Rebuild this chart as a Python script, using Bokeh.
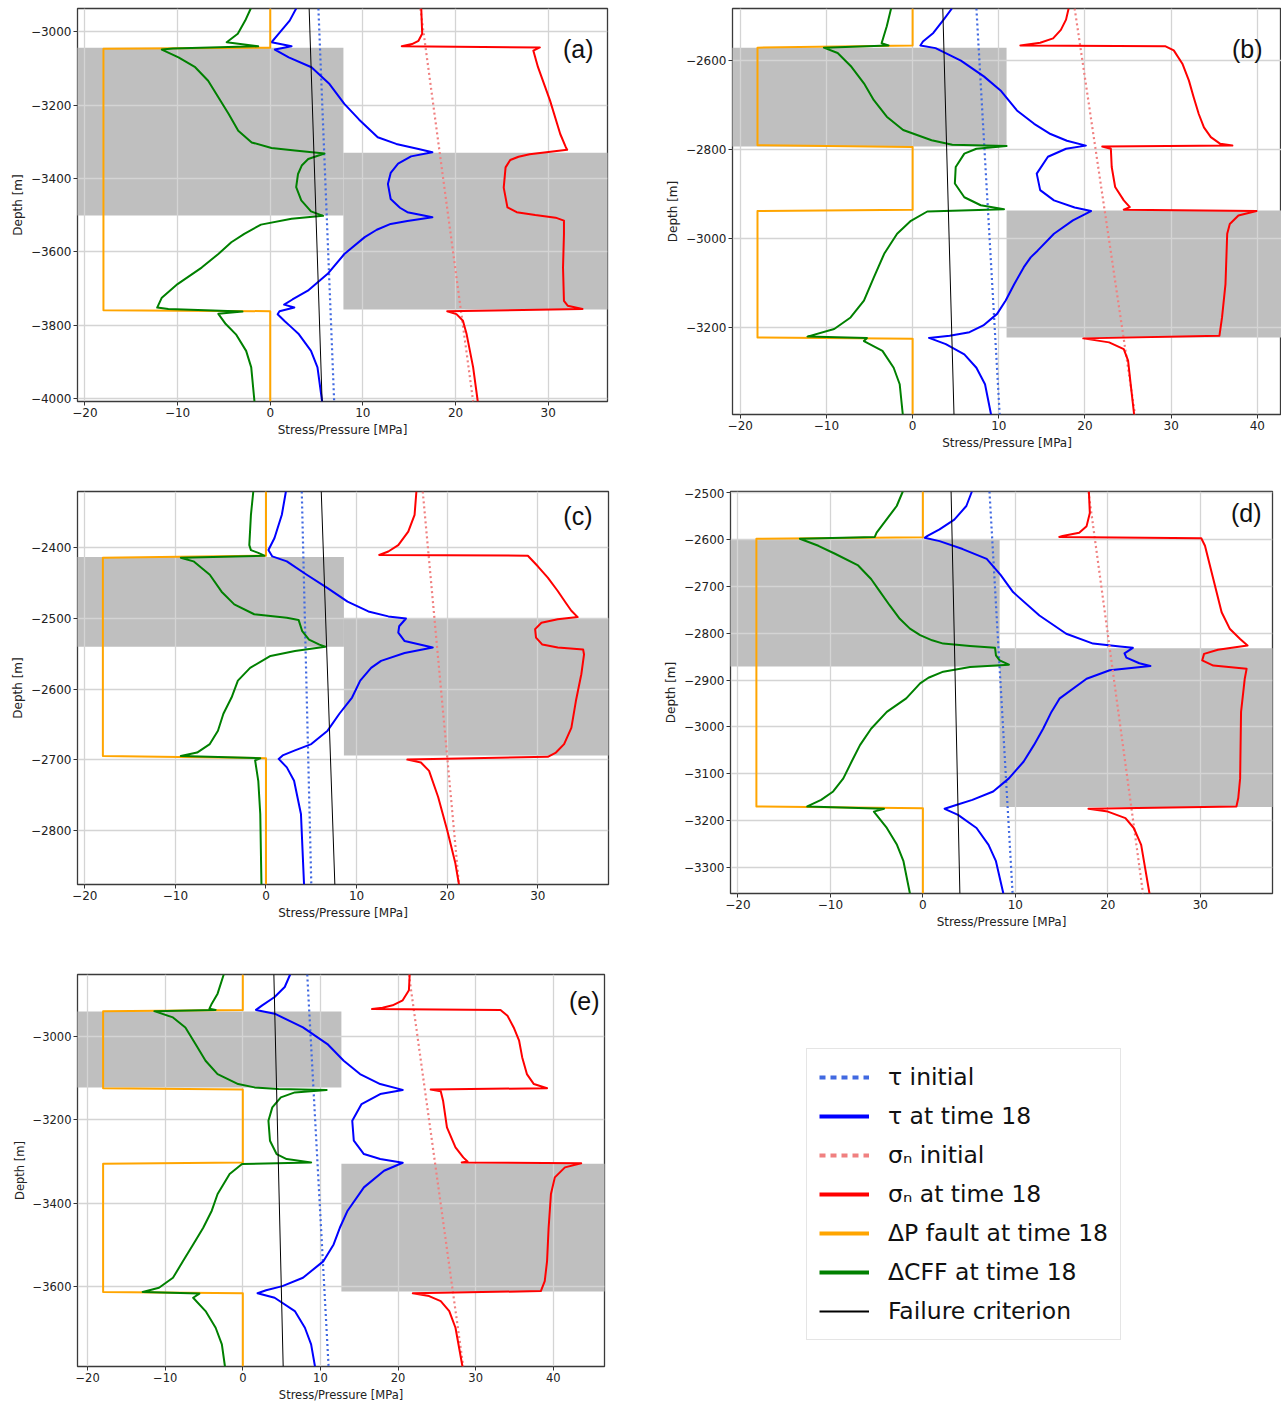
from bokeh.plotting import figure
from bokeh.layouts import row, column
from bokeh.models import (Range1d, FixedTicker, Legend, LegendItem, Label,
                          CustomJSTickFormatter)
from bokeh.embed import file_html
from bokeh.resources import INLINE

# ---------------------------------------------------------------- data
X_TICKS = [-20, -10, 0, 10, 20, 30, 40]
X_LABEL = "Stress/Pressure [MPa]"
Y_LABEL = "Depth [m]"
LEGEND_LABELS = ["τ initial", "τ at time 18", "σₙ initial", "σₙ at time 18",
                 "ΔP fault at time 18", "ΔCFF at time 18", "Failure criterion"]

# each curve: list of (depth [m], value [MPa])
# ---- panel (a)
A_YTICKS = [-4000, -3800, -3600, -3400, -3200, -3000]
A_LEFT_ZONE = (-3044, -3501)
A_RIGHT_ZONE = (-3330, -3757)
A_FAULT_X = 7.9
A_TAU0 = [(-2937, 5.2), (-4008, 6.9)]
A_SN0 = [(-2937, 16.2), (-4008, 21.9)]
A_FAIL = [(-2937, 4.2), (-4008, 5.6)]
A_DP = [(-2937, 0), (-3044, 0), (-3047, -18), (-3759, -18), (-3762, 0), (-4008, 0)]
A_TAU = [(-2937, 2.8), (-2970, 2.1), (-3006, 0.9), (-3029, 0.14), (-3040, 2.3), (-3049, 0.5),
         (-3070, 2.0), (-3097, 4.45), (-3143, 6.4), (-3197, 8.0), (-3240, 9.6), (-3288, 11.6),
         (-3306, 13.6), (-3320, 16.0), (-3329, 17.5), (-3340, 15.2), (-3360, 13.8), (-3385, 13.0),
         (-3415, 12.7), (-3456, 13.0), (-3480, 14.0), (-3492, 14.8), (-3500, 16.3), (-3506, 17.5),
         (-3516, 14.8), (-3524, 13.0), (-3540, 11.5), (-3560, 10.2), (-3606, 8.0), (-3660, 6.2),
         (-3706, 4.06), (-3730, 2.4), (-3744, 1.5), (-3752, 2.6), (-3762, 1.0), (-3770, 0.8),
         (-3790, 1.6), (-3806, 2.3), (-3825, 3.1), (-3870, 4.4), (-3915, 5.1), (-4008, 5.6)]
A_SN = [(-2937, 16.3), (-3006, 16.4), (-3025, 16.0), (-3034, 15.3), (-3040, 14.2), (-3043, 29.1),
        (-3052, 28.4), (-3097, 28.9), (-3188, 30.2), (-3279, 31.3), (-3315, 31.9), (-3322, 32.05),
        (-3334, 28.0), (-3341, 26.8), (-3350, 25.9), (-3370, 25.4), (-3425, 25.2), (-3479, 25.6),
        (-3492, 26.6), (-3500, 28.6), (-3507, 30.8), (-3515, 31.7), (-3552, 31.7), (-3643, 31.6),
        (-3734, 31.7), (-3747, 32.1), (-3756, 33.7), (-3762, 19.1), (-3770, 20.1), (-3788, 20.8),
        (-3825, 21.2), (-3915, 21.9), (-4008, 22.4)]
A_DCFF = [(-2937, -2.1), (-2970, -2.7), (-3006, -3.5), (-3029, -4.7), (-3040, -1.3), (-3046, -10.5),
          (-3049, -11.7), (-3070, -9.9), (-3097, -8.1), (-3134, -6.7), (-3179, -5.6), (-3224, -4.5),
          (-3270, -3.45), (-3302, -2.0), (-3317, 0.14), (-3324, 2.66), (-3332, 5.85), (-3347, 4.1),
          (-3365, 3.4), (-3388, 3.0), (-3424, 2.8), (-3460, 3.35), (-3490, 4.4), (-3502, 5.7),
          (-3510, 2.3), (-3526, -1.0), (-3551, -2.8), (-3574, -4.2), (-3606, -5.6), (-3643, -7.4),
          (-3688, -10.0), (-3725, -11.7), (-3752, -12.2), (-3756, -11.0), (-3763, -3.0),
          (-3769, -5.6), (-3797, -4.8), (-3825, -3.7), (-3870, -2.6), (-3915, -2.05), (-4008, -1.7)]

# ---- panel (b)
B_YTICKS = [-3200, -3000, -2800, -2600]
B_LEFT_ZONE = (-2571, -2793)
B_RIGHT_ZONE = (-2937, -3222)
B_FAULT_X = 10.9
B_TAU0 = [(-2483, 7.4), (-3395, 10.1)]
B_SN0 = [(-2483, 18.8), (-3395, 25.8)]
B_FAIL = [(-2483, 3.5), (-3395, 4.8)]
B_DP = [(-2483, 0), (-2566, 0), (-2571, -18), (-2790, -18), (-2794, 0), (-2935, 0),
        (-2938, -18), (-3222, -18), (-3225, 0), (-3395, 0)]
B_TAU = [(-2483, 4.56), (-2508, 3.6), (-2538, 2.4), (-2557, 1.2), (-2566, 0.9), (-2572, 2.66),
         (-2600, 5.6), (-2636, 8.3), (-2667, 10.2), (-2712, 12.1), (-2742, 14.1), (-2765, 16.0),
         (-2780, 17.9), (-2791, 20.1), (-2798, 17.8), (-2816, 15.7), (-2854, 14.4), (-2891, 14.8),
         (-2914, 16.4), (-2930, 18.8), (-2938, 20.7), (-2959, 18.6), (-2989, 16.4), (-3027, 14.5),
         (-3042, 13.7), (-3064, 12.9), (-3102, 11.8), (-3139, 10.8), (-3169, 9.8), (-3195, 8.2),
         (-3210, 6.6), (-3218, 4.3), (-3223, 1.9), (-3237, 3.85), (-3260, 6.0), (-3290, 7.4),
         (-3327, 8.4), (-3395, 9.1)]
B_SN = [(-2483, 18.1), (-2508, 17.8), (-2531, 17.2), (-2550, 16.3), (-2560, 14.8), (-2566, 12.5),
        (-2568, 29.35), (-2577, 30.3), (-2607, 31.3), (-2645, 32.06), (-2682, 32.6), (-2720, 33.2),
        (-2750, 33.8), (-2772, 34.6), (-2787, 35.7), (-2791, 37.1), (-2793, 22.0), (-2798, 23.0),
        (-2839, 23.1), (-2884, 23.5), (-2914, 24.5), (-2929, 25.2), (-2935, 24.5), (-2938, 39.9),
        (-2948, 37.8), (-2967, 36.8), (-2989, 36.5), (-3102, 36.3), (-3177, 35.9), (-3218, 35.6),
        (-3224, 19.8), (-3233, 22.8), (-3248, 24.5), (-3274, 25.0), (-3327, 25.3), (-3395, 25.7)]
B_DCFF = [(-2483, -2.5), (-2523, -3.0), (-2561, -3.6), (-2566, -2.8), (-2571, -10.3), (-2583, -8.7),
          (-2614, -7.1), (-2651, -5.65), (-2689, -4.5), (-2726, -3.0), (-2756, -1.1), (-2779, 2.2),
          (-2789, 4.6), (-2792, 10.9), (-2798, 7.4), (-2809, 6.0), (-2839, 5.0), (-2876, 4.9),
          (-2907, 6.0), (-2925, 7.9), (-2934, 10.6), (-2939, 1.7), (-2960, -0.2), (-2989, -1.8),
          (-3034, -3.3), (-3087, -4.5), (-3139, -5.65), (-3177, -7.2), (-3203, -9.1), (-3220, -12.2),
          (-3223, -5.3), (-3230, -5.65), (-3252, -3.5), (-3290, -2.2), (-3327, -1.5), (-3395, -1.14)]

# ---- panel (c)
C_YTICKS = [-2800, -2700, -2600, -2500, -2400]
C_LEFT_ZONE = (-2413, -2540)
C_RIGHT_ZONE = (-2500, -2694)
C_FAULT_X = 8.6
C_TAU0 = [(-2320, 3.95), (-2877, 5.0)]
C_SN0 = [(-2320, 17.3), (-2877, 21.3)]
C_FAIL = [(-2320, 6.1), (-2877, 7.6)]
C_DP = [(-2320, 0), (-2411, 0), (-2414, -18), (-2695, -18), (-2698, 0), (-2877, 0)]
C_TAU = [(-2320, 2.2), (-2353, 1.75), (-2386, 0.94), (-2403, 0.27), (-2412, 0.7), (-2419, 2.3),
         (-2438, 4.5), (-2457, 6.8), (-2476, 9.0), (-2490, 11.3), (-2497, 13.5), (-2500, 15.45),
         (-2511, 14.7), (-2520, 14.6), (-2532, 15.3), (-2541, 18.4), (-2549, 15.3), (-2560, 12.7),
         (-2570, 11.6), (-2588, 10.4), (-2612, 9.5), (-2635, 8.1), (-2659, 6.8), (-2678, 5.0),
         (-2687, 3.2), (-2694, 1.84), (-2699, 1.4), (-2711, 2.3), (-2730, 3.1), (-2777, 3.86),
         (-2877, 4.2)]
C_SN = [(-2320, 16.6), (-2353, 16.4), (-2377, 15.7), (-2396, 14.6), (-2405, 13.5), (-2410, 12.5),
        (-2411, 28.9), (-2426, 30.0), (-2442, 31.1), (-2461, 32.2), (-2478, 33.1), (-2489, 33.7),
        (-2498, 34.4), (-2501, 32.2), (-2506, 30.4), (-2515, 29.7), (-2527, 29.8), (-2537, 30.5),
        (-2541, 32.2), (-2544, 35.0), (-2551, 35.1), (-2579, 34.8), (-2617, 34.2), (-2655, 33.7),
        (-2678, 32.9), (-2690, 32.0), (-2696, 31.1), (-2700, 15.6), (-2704, 17.1), (-2716, 18.0),
        (-2753, 19.0), (-2800, 20.0), (-2847, 20.9), (-2877, 21.3)]
C_DCFF = [(-2320, -1.4), (-2353, -1.66), (-2396, -1.84), (-2403, -1.66), (-2407, -0.85),
          (-2411, -0.18), (-2414, -9.4), (-2419, -8.0), (-2438, -6.2), (-2462, -4.9), (-2480, -3.5),
          (-2494, -1.3), (-2499, 2.3), (-2502, 3.6), (-2518, 4.0), (-2530, 4.75), (-2537, 5.9),
          (-2540, 6.55), (-2546, 3.2), (-2553, 0.5), (-2570, -1.75), (-2588, -3.1), (-2612, -3.8),
          (-2635, -4.7), (-2659, -5.3), (-2678, -6.2), (-2690, -7.6), (-2695, -9.4), (-2698, -0.63),
          (-2701, -1.2), (-2730, -0.85), (-2777, -0.63), (-2877, -0.5)]

# ---- panel (d)
D_YTICKS = [-3300, -3200, -3100, -3000, -2900, -2800, -2700, -2600, -2500]
D_LEFT_ZONE = (-2600, -2871)
D_RIGHT_ZONE = (-2832, -3171)
D_FAULT_X = 8.3
D_TAU0 = [(-2497, 7.2), (-3356, 9.7)]
D_SN0 = [(-2497, 17.9), (-3356, 23.8)]
D_FAIL = [(-2497, 3.05), (-3356, 4.0)]
D_DP = [(-2497, 0), (-2595, 0), (-2598, -18), (-3170, -18), (-3174, 0), (-3356, 0)]
D_TAU = [(-2497, 5.3), (-2528, 4.7), (-2557, 3.4), (-2578, 1.8), (-2592, 0.5), (-2596, 0.18),
         (-2603, 1.8), (-2620, 4.3), (-2641, 6.9), (-2675, 8.4), (-2712, 9.75), (-2762, 12.6),
         (-2801, 15.5), (-2822, 18.4), (-2828, 21.3), (-2831, 22.7), (-2843, 21.8), (-2852, 22.0),
         (-2864, 23.4), (-2870, 24.6), (-2879, 20.2), (-2897, 17.7), (-2939, 14.8), (-2968, 13.9),
         (-3004, 13.0), (-3039, 12.0), (-3074, 10.9), (-3110, 9.3), (-3138, 7.6), (-3156, 5.35),
         (-3167, 3.6), (-3175, 2.35), (-3188, 3.8), (-3216, 5.8), (-3252, 7.1), (-3287, 7.9),
         (-3356, 8.7)]
D_SN = [(-2497, 17.95), (-2543, 18.05), (-2571, 17.7), (-2585, 16.9), (-2592, 15.1), (-2594, 14.75),
        (-2597, 30.1), (-2613, 30.5), (-2684, 31.4), (-2755, 32.3), (-2791, 33.2), (-2812, 34.3),
        (-2826, 35.1), (-2835, 31.9), (-2844, 30.4), (-2858, 30.2), (-2869, 31.4), (-2876, 35.0),
        (-2897, 34.8), (-2968, 34.4), (-3110, 34.3), (-3152, 34.1), (-3170, 33.9), (-3175, 17.9),
        (-3181, 20.0), (-3195, 21.9), (-3216, 22.8), (-3252, 23.6), (-3356, 24.5)]
D_DCFF = [(-2497, -2.17), (-2528, -2.83), (-2557, -3.94), (-2585, -5.0), (-2594, -5.2),
          (-2598, -13.3), (-2613, -11.3), (-2630, -9.5), (-2655, -7.0), (-2684, -5.6), (-2712, -4.6),
          (-2740, -3.6), (-2769, -2.5), (-2790, -1.4), (-2804, -0.3), (-2815, 1.0), (-2822, 2.2),
          (-2827, 5.1), (-2831, 7.8), (-2847, 7.9), (-2858, 8.3), (-2867, 9.3), (-2872, 5.1),
          (-2882, 2.2), (-2895, 0.6), (-2907, -0.3), (-2939, -1.8), (-2968, -3.9), (-3004, -5.6),
          (-3039, -6.8), (-3074, -7.7), (-3110, -8.6), (-3138, -9.7), (-3156, -11.0), (-3170, -12.5),
          (-3175, -4.2), (-3181, -5.3), (-3216, -3.9), (-3252, -2.8), (-3287, -2.1), (-3356, -1.4)]

# ---- panel (e)
E_YTICKS = [-3600, -3400, -3200, -3000]
E_LEFT_ZONE = (-2940, -3122)
E_RIGHT_ZONE = (-3305, -3612)
E_FAULT_X = 12.7
E_TAU0 = [(-2851, 8.3), (-3792, 11.05)]
E_SN0 = [(-2851, 21.4), (-3792, 28.4)]
E_FAIL = [(-2851, 4.0), (-3792, 5.2)]
E_DP = [(-2851, 0), (-2936, 0), (-2939, -18), (-3124, -18), (-3127, 0), (-3302, 0),
        (-3305, -18), (-3613, -18), (-3616, 0), (-3792, 0)]
E_TAU = [(-2851, 6.1), (-2881, 5.4), (-2905, 4.1), (-2925, 2.5), (-2936, 1.7), (-2945, 4.1),
         (-2978, 7.75), (-3018, 10.9), (-3058, 13.0), (-3090, 15.1), (-3114, 17.7), (-3128, 20.6),
         (-3138, 17.7), (-3162, 15.3), (-3202, 14.1), (-3250, 14.3), (-3282, 15.6), (-3294, 17.7),
         (-3303, 20.6), (-3322, 18.2), (-3362, 15.6), (-3418, 13.5), (-3459, 12.5), (-3499, 11.7),
         (-3539, 10.4), (-3579, 7.75), (-3599, 5.1), (-3609, 3.0), (-3616, 1.9), (-3627, 4.1),
         (-3659, 6.7), (-3699, 8.0), (-3739, 8.8), (-3792, 9.3)]
E_SN = [(-2851, 21.5), (-2889, 21.4), (-2913, 20.6), (-2925, 19.3), (-2931, 18.0), (-2934, 16.65),
        (-2936, 33.2), (-2950, 34.1), (-2978, 34.9), (-3010, 35.6), (-3050, 36.0), (-3090, 36.6),
        (-3114, 37.5), (-3124, 39.2), (-3127, 24.2), (-3131, 25.5), (-3154, 25.8), (-3218, 26.3),
        (-3266, 27.4), (-3290, 28.4), (-3300, 28.95), (-3302, 28.2), (-3304, 43.6), (-3314, 41.5),
        (-3338, 40.2), (-3378, 39.7), (-3459, 39.4), (-3539, 39.2), (-3587, 38.9), (-3611, 38.4),
        (-3616, 21.9), (-3623, 24.0), (-3635, 25.5), (-3659, 26.6), (-3699, 27.4), (-3792, 28.3)]
E_DCFF = [(-2851, -2.46), (-2897, -3.25), (-2921, -4.0), (-2933, -4.3), (-2936, -3.5),
          (-2939, -11.4), (-2954, -9.0), (-2978, -7.4), (-3018, -6.1), (-3058, -4.8), (-3090, -3.25),
          (-3114, -0.6), (-3122, 1.5), (-3126, 4.6), (-3128, 10.8), (-3134, 6.7), (-3146, 4.9),
          (-3170, 3.8), (-3202, 3.3), (-3250, 3.5), (-3282, 4.35), (-3294, 5.65), (-3302, 8.8),
          (-3306, -0.1), (-3330, -1.7), (-3378, -3.25), (-3418, -4.0), (-3459, -5.1), (-3499, -6.4),
          (-3539, -7.7), (-3579, -9.0), (-3603, -10.8), (-3613, -12.9), (-3617, -5.6), (-3627, -6.4),
          (-3659, -4.8), (-3699, -3.5), (-3739, -2.7), (-3792, -2.3)]

# ---------------------------------------------------------------- styles
TAU0_C, TAU_C = "#4169e1", "#0000ff"
SN0_C, SN_C = "#f08080", "#ff0000"
DP_C, CFF_C, FAIL_C = "#ffa500", "#008000", "#000000"
ZONE_C = "#bfbfbf"
FONT = "DejaVu Sans"

minus_fmt = CustomJSTickFormatter(code="return (tick < 0 ? '\\u2212' : '') + Math.abs(tick).toString();")


def panel(letter, xr, yr, yticks, lzone, rzone, fault_x, tau0, sn0, fail, dp, tau, sn, dcff,
          dims, lab_xy, fs="12px"):
    bl, fw, br, bt, fh, bb = dims
    p = figure(frame_width=fw, frame_height=fh, min_border_left=bl, min_border_right=br,
               min_border_top=bt, min_border_bottom=bb,
               x_range=Range1d(*xr), y_range=Range1d(*yr),
               toolbar_location=None, output_backend="svg")
    # reservoir compartments
    p.quad(left=[xr[0] - 50, fault_x], right=[fault_x, xr[1] + 50],
           top=[lzone[0], rzone[0]], bottom=[lzone[1], rzone[1]],
           fill_color=ZONE_C, line_color=None, level="image")

    def ln(pts, color, width, dash="solid"):
        p.line([v for d, v in pts], [d for d, v in pts], line_color=color, line_width=width,
               line_dash=dash, line_join="round")

    ln(tau0, TAU0_C, 2.2, "2 3")
    ln(tau, TAU_C, 2)
    ln(sn0, SN0_C, 2.2, "2 3")
    ln(sn, SN_C, 2)
    ln(dp, DP_C, 2)
    ln(dcff, CFF_C, 2)
    ln(fail, FAIL_C, 1)

    p.xaxis.ticker = FixedTicker(ticks=X_TICKS)
    p.yaxis.ticker = FixedTicker(ticks=yticks)
    p.xaxis.formatter = minus_fmt
    p.yaxis.formatter = minus_fmt
    p.xaxis.axis_label = X_LABEL
    p.yaxis.axis_label = Y_LABEL
    for ax in (p.xaxis, p.yaxis):
        ax.axis_label_text_font = FONT
        ax.axis_label_text_font_size = fs
        ax.axis_label_text_font_style = "normal"
        ax.axis_label_text_color = "#222222"
        ax.major_label_text_font = FONT
        ax.major_label_text_font_size = fs
        ax.major_label_text_color = "#222222"
        ax.axis_line_color = None
        ax.major_tick_in = 0
        ax.major_tick_out = 4
        ax.major_tick_line_color = "#333333"
        ax.minor_tick_line_color = None
        ax.major_label_standoff = 2
        ax.axis_label_standoff = 3
    p.grid.grid_line_color = "#d4d4d4"
    p.grid.grid_line_width = 1.3
    p.outline_line_color = "#3a3a3a"
    p.outline_line_width = 1.3
    p.background_fill_color = "white"
    p.add_layout(Label(x=lab_xy[0], y=lab_xy[1], x_units="screen", y_units="screen",
                       text=letter, text_align="right", text_baseline="middle",
                       text_font="Liberation Sans", text_font_size="25px",
                       text_color="#111111"))
    return p


pa = panel("(a)", (-20.8, 36.4), (-4008, -2937), A_YTICKS, A_LEFT_ZONE, A_RIGHT_ZONE, A_FAULT_X,
           A_TAU0, A_SN0, A_FAIL, A_DP, A_TAU, A_SN, A_DCFF,
           (77, 530, 33, 8, 393, 87), (516, 353))
pb = panel("(b)", (-20.9, 42.8), (-3395, -2483), B_YTICKS, B_LEFT_ZONE, B_RIGHT_ZONE, B_FAULT_X,
           B_TAU0, B_SN0, B_FAIL, B_DP, B_TAU, B_SN, B_DCFF,
           (92, 549, 0, 8, 406, 74), (530, 366))
pc = panel("(c)", (-20.8, 37.8), (-2877, -2320), C_YTICKS, C_LEFT_ZONE, C_RIGHT_ZONE, C_FAULT_X,
           C_TAU0, C_SN0, C_FAIL, C_DP, C_TAU, C_SN, C_DCFF,
           (77, 531, 32, 0, 393, 83), (515, 369))
pd_ = panel("(d)", (-20.8, 37.8), (-3356, -2497), D_YTICKS, D_LEFT_ZONE, D_RIGHT_ZONE, D_FAULT_X,
            D_TAU0, D_SN0, D_FAIL, D_DP, D_TAU, D_SN, D_DCFF,
            (90, 542, 9, 3, 402, 71), (531, 381))
pe = panel("(e)", (-21.3, 46.6), (-3792, -2851), E_YTICKS, E_LEFT_ZONE, E_RIGHT_ZONE, E_FAULT_X,
           E_TAU0, E_SN0, E_FAIL, E_DP, E_TAU, E_SN, E_DCFF,
           (77, 527, 36, 10, 392, 34), (522, 366), fs="11.5px")

# ---------------------------------------------------------------- legend panel
lg = figure(width=641, height=436, x_range=(0, 1), y_range=(0, 1), toolbar_location=None,
            output_backend="svg", min_border=0)
lg.axis.visible = False
lg.grid.visible = False
lg.outline_line_color = None
styles = [(TAU0_C, 4, "6 5"), (TAU_C, 4, "solid"), (SN0_C, 4, "6 5"), (SN_C, 4, "solid"),
          (DP_C, 4, "solid"), (CFF_C, 4, "solid"), (FAIL_C, 2, "solid")]
items = []
for lab, (c, w, d) in zip(LEGEND_LABELS, styles):
    # placeholder renderer kept outside the visible range: it only supplies the legend swatch
    r = lg.line([5, 6], [5, 6], line_color=c, line_width=w, line_dash=d)
    items.append(LegendItem(label=lab, renderers=[r]))
legend = Legend(items=items, location=(166, 22), label_text_font=FONT,
                label_text_font_size="23.5px", label_text_color="#111111",
                glyph_width=50, glyph_height=32, label_height=32, spacing=7,
                padding=12, label_standoff=19, border_line_color="#cccccc",
                border_line_width=1.5, background_fill_color="white", margin=0)
lg.add_layout(legend)

layout = column(row(pa, pb), row(pc, pd_), row(pe, lg))

open("out.html", "w").write(file_html(layout, INLINE))
